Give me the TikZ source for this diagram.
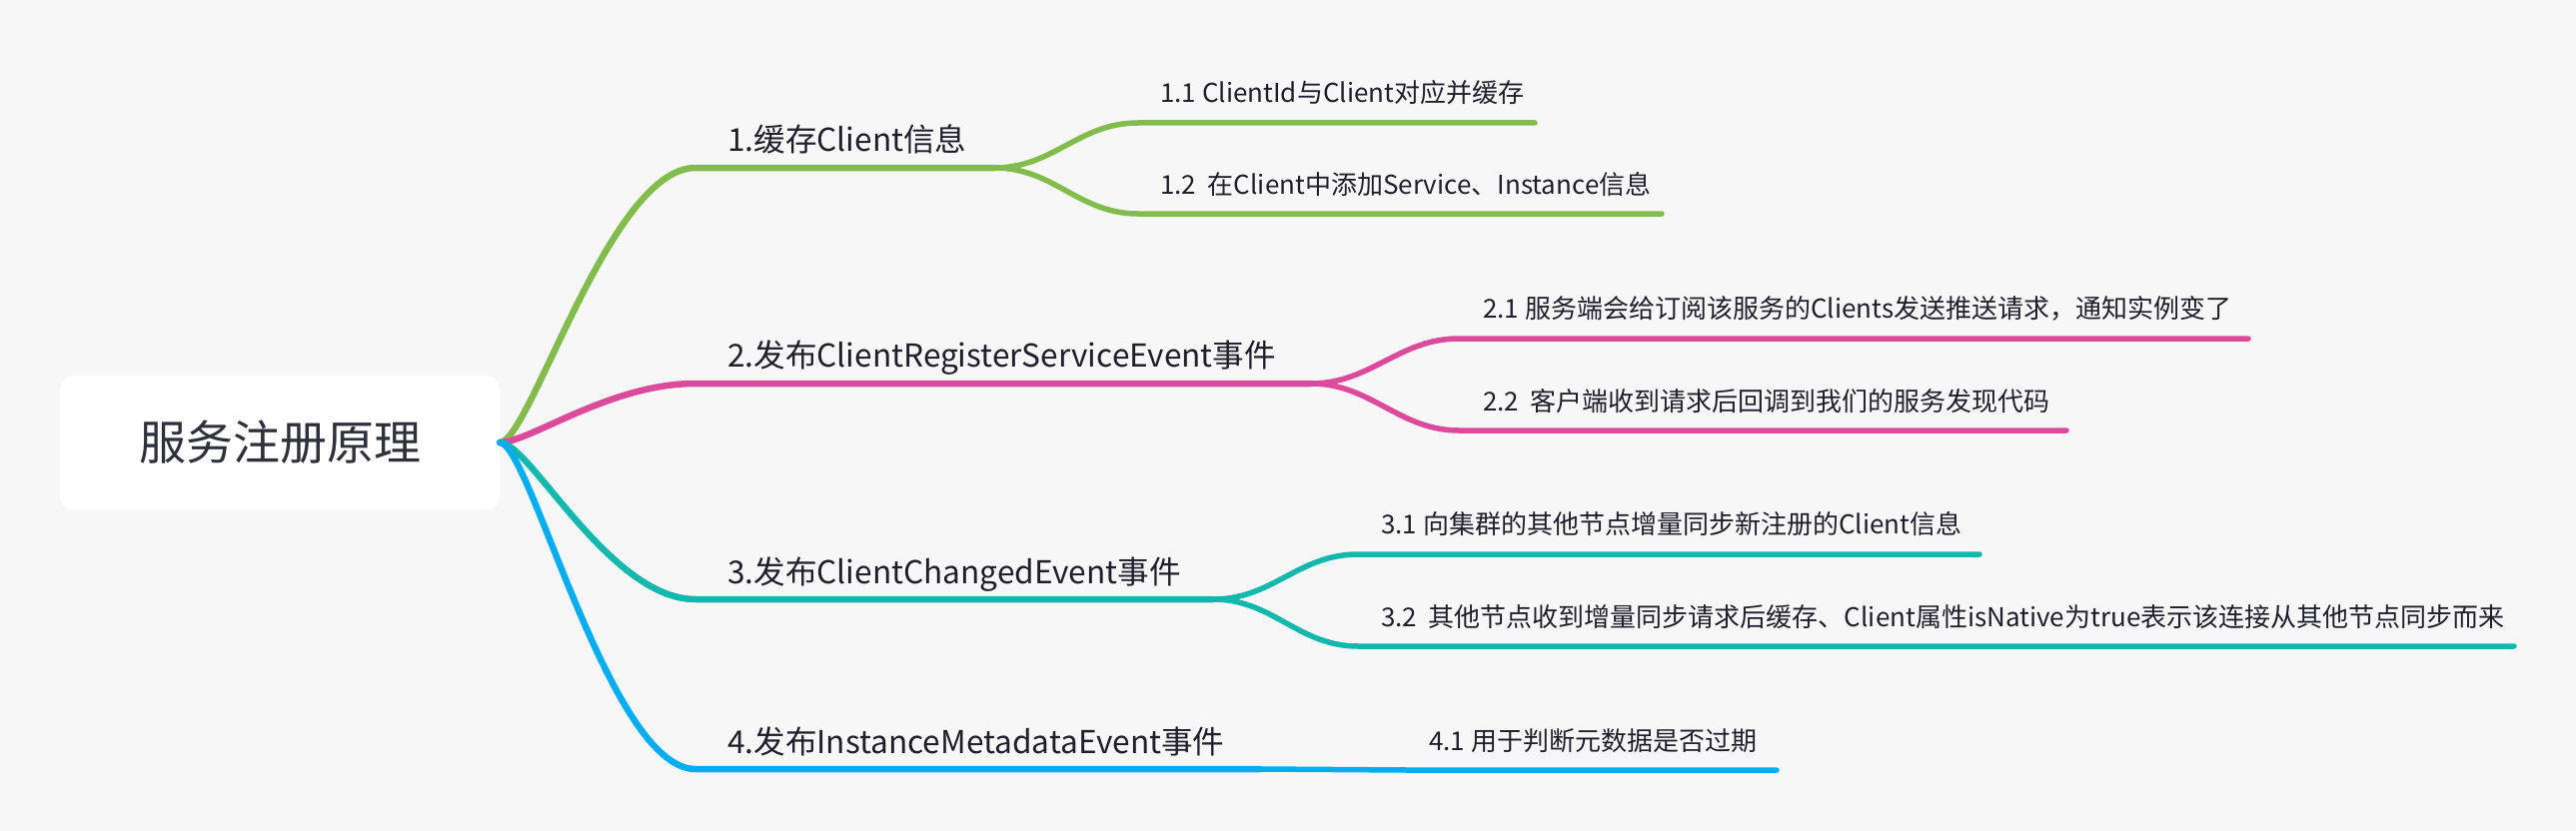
\documentclass[tikz,border=0pt]{standalone}
\usepackage{fontspec}
\setmainfont{Noto Sans CJK SC}
\definecolor{paper}{HTML}{F7F7F7}
\definecolor{ink}{HTML}{1F1F2C}
\definecolor{rootink}{HTML}{2E3139}
\definecolor{cgreen}{HTML}{82BC4C}
\definecolor{cpink}{HTML}{DC4B9B}
\definecolor{cteal}{HTML}{12B8AE}
\definecolor{cblue}{HTML}{03AEF0}
\begin{document}
\begin{tikzpicture}[x=1pt,y=-1pt,
    every node/.style={inner sep=0pt, text=ink},
    topic/.style={anchor=base west, font=\fontsize{31.6}{36}\selectfont},
    leaf/.style={anchor=base west, font=\fontsize{26}{32}\selectfont},
    trunk/.style={line width=6.5pt, line cap=round},
    twig/.style={line width=5.5pt, line cap=round}]
    \useasboundingbox[fill=paper] (0,0) rectangle (2578,832);
    \node [fill=white, rounded corners=13pt, minimum width=440pt, minimum height=134pt, text=rootink, font=\fontsize{47}{56}\selectfont] (root) at (280,443) {服务注册原理}; %centre
    % branches
    \node [topic] (b1) at (728,152) {1.缓存Client信息};
    \node [topic] (b2) at (728,367) {2.发布ClientRegisterServiceEvent事件};
    \node [topic] (b3) at (728,584) {3.发布ClientChangedEvent事件};
    \node [topic] (b4) at (728,754) {4.发布InstanceMetadataEvent事件};
    \coordinate (b1s) at (696,168); \coordinate (b1e) at (995,168);
    \coordinate (b2s) at (696,384); \coordinate (b2e) at (1312,384);
    \coordinate (b3s) at (696,600); \coordinate (b3e) at (1214,600);
    \coordinate (b4s) at (696,770); \coordinate (b4e) at (1261,770);
    % leaves
    \node [leaf] (c11) at (1161,103) {1.1 ClientId与Client对应并缓存};
    \node [leaf] (c12) at (1161,194) {1.2\ \ 在Client中添加Service、Instance信息};
    \node [leaf] (c21) at (1484,318) {2.1 服务端会给订阅该服务的Clients发送推送请求，通知实例变了};
    \node [leaf] (c22) at (1484,411) {2.2\ \ 客户端收到请求后回调到我们的服务发现代码};
    \node [leaf] (c31) at (1382,534) {3.1 向集群的其他节点增量同步新注册的Client信息};
    \node [leaf] (c32) at (1382,627) {3.2\ \ 其他节点收到增量同步请求后缓存、Client属性isNative为true表示该连接从其他节点同步而来};
    \node [leaf] (c41) at (1430,751) {4.1 用于判断元数据是否过期};
    \coordinate (c11s) at (1139,123); \coordinate (c11e) at (1536,123);
    \coordinate (c12s) at (1139,214); \coordinate (c12e) at (1663,214);
    \coordinate (c21s) at (1460,339); \coordinate (c21e) at (2250,339);
    \coordinate (c22s) at (1460,431); \coordinate (c22e) at (2068,431);
    \coordinate (c31s) at (1359,555); \coordinate (c31e) at (1981,555);
    \coordinate (c32s) at (1359,647); \coordinate (c32e) at (2516,647);
    \coordinate (c41s) at (1408,771); \coordinate (c41e) at (1778,771);
    % connectors
    \draw [trunk, cgreen] (root.east) .. controls +(30,0) and +(-86,0) .. (b1s) -- (b1e);
    \draw [trunk, cpink] (root.east) .. controls +(30,0) and +(-86,0) .. (b2s) -- (b2e);
    \draw [trunk, cteal] (root.east) .. controls +(30,0) and +(-86,0) .. (b3s) -- (b3e);
    \draw [trunk, cblue] (root.east) .. controls +(30,0) and +(-86,0) .. (b4s) -- (b4e);
    \draw [twig, cgreen] (b1e) .. controls +(60,0) and +(-60,0) .. (c11s) -- (c11e);
    \draw [twig, cgreen] (b1e) .. controls +(60,0) and +(-60,0) .. (c12s) -- (c12e);
    \draw [twig, cpink] (b2e) .. controls +(60,0) and +(-60,0) .. (c21s) -- (c21e);
    \draw [twig, cpink] (b2e) .. controls +(60,0) and +(-60,0) .. (c22s) -- (c22e);
    \draw [twig, cteal] (b3e) .. controls +(60,0) and +(-60,0) .. (c31s) -- (c31e);
    \draw [twig, cteal] (b3e) .. controls +(60,0) and +(-60,0) .. (c32s) -- (c32e);
    \draw [twig, cblue] (b4e) -- (c41s) -- (c41e);
\end{tikzpicture}
\end{document}
